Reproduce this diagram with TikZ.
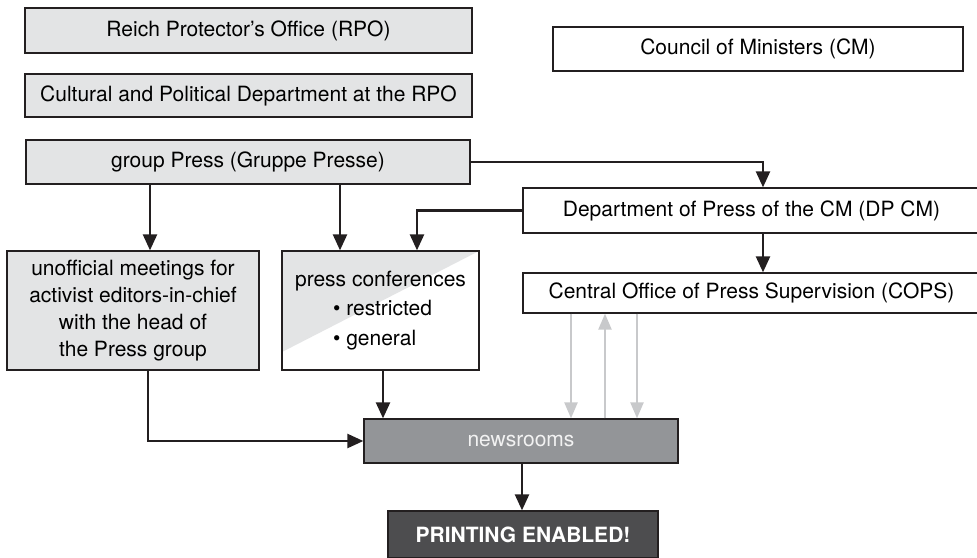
\documentclass[tikz,border=0pt]{standalone}
\usepackage{fontspec}
\setmainfont{TeX Gyre Heros}
\usepackage{tikz}
\usetikzlibrary{arrows.meta}
\usepackage{xcolor}
\definecolor{boxgray}{HTML}{E3E4E5}
\definecolor{newsgray}{HTML}{939598}
\definecolor{printdark}{HTML}{4D4D4F}
\definecolor{copsgray}{HTML}{C8C9CB}
\definecolor{linedark}{HTML}{231F20}

\begin{document}
\begin{tikzpicture}[
  x=1pt, y=-1pt,
  box/.style={
    rectangle, draw=linedark, line width=1.3pt, fill=boxgray,
    inner sep=0pt, align=center,
    font=\fontsize{21}{27}\selectfont
  },
  plainbox/.style={box, fill=white},
  arr/.style={-{Triangle[length=16pt,width=14pt]}, line width=2.4pt, color=linedark},
  grayarr/.style={-{Triangle[length=16pt,width=13pt]}, line width=2.4pt, color=copsgray},
]
  \useasboundingbox (0,0) rectangle (977,557);
  \clip (0,0) rectangle (977,557);

  % Row 1: Protectorate side
  \node[box, minimum width=447pt, minimum height=45pt] (rpo) at (248.5,30.5) {Reich Protector’s Office (RPO)};
  \node[box, minimum width=447pt, minimum height=43pt] (cpd) at (248.5,95.5) {Cultural and Political Department at the RPO};
  \node[box, minimum width=444pt, minimum height=44pt] (grp) at (248,162) {group Press (Gruppe Presse)};

  % Row 1: Government side
  \node[plainbox, minimum width=410pt, minimum height=44pt] (cm) at (758,49) {Council of Ministers (CM)};
  \node[plainbox, minimum width=457pt, minimum height=45pt] (dp) at (751.5,210.5) {Department of Press of the CM (DP CM)};
  \node[plainbox, minimum width=457pt, minimum height=40pt] (cops) at (751.5,293) {Central Office of Press Supervision (COPS)};

  % Row 2: Channels
  \node[box, minimum width=252pt, minimum height=119pt] (unoff) at (133,310.5)
    {unofficial meetings for\\activist editors-in-chief\\with the head of\\the Press group};
  \node[plainbox, minimum width=197pt, minimum height=119pt, align=left,
    font=\fontsize{21}{29.5}\selectfont,
    path picture={\fill[boxgray] (path picture bounding box.north west)
      -- (path picture bounding box.north east)
      -- ([yshift=18pt]path picture bounding box.south west) -- cycle;}] (conf) at (380.5,310.5)
    {press conferences\\\hspace*{38pt}\textbullet\ restricted\\\hspace*{38pt}\textbullet\ general};

  % Row 3: Output
  \node[box, fill=newsgray, text=white!95!black, minimum width=314pt, minimum height=44pt] (news) at (521,441) {newsrooms};
  \node[box, fill=printdark, text=white, font=\fontsize{21}{27}\selectfont\bfseries,
    minimum width=270pt, minimum height=47pt] (print) at (523,534.5) {PRINTING ENABLED!};

  % Arrows
  \draw[arr] (grp.south -| 150,0) -- (unoff.north -| 150,0);
  \draw[arr] (grp.south -| 340,0) -- (conf.north -| 340,0);
  \draw[arr] (grp.east) -| (dp.north -| 763,0);
  \draw[arr] (dp.west) -| (conf.north -| 417,0);
  \draw[arr] (dp.south -| 763,0) -- (cops.north -| 763,0);
  \draw[arr] (unoff.south -| 148,0) |- (news.west);
  \draw[arr] (conf.south -| 383,0) -- (news.north -| 383,0);
  \draw[arr] (news.south -| 522,0) -- (print.north -| 522,0);

  % Supervision
  \foreach \dx in {571,637}
    \draw[grayarr] (cops.south -| \dx,0) -- (news.north -| \dx,0);
  \draw[grayarr] (news.north -| 605,0) -- (cops.south -| 605,0);
\end{tikzpicture}
\end{document}
